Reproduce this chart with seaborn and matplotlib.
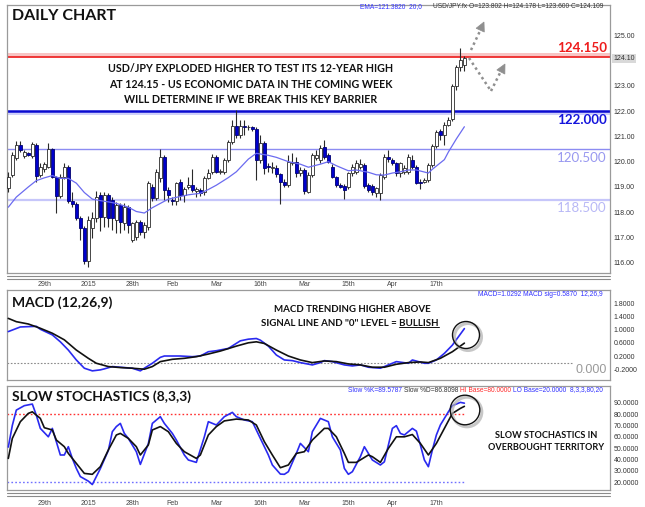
import numpy as np
import matplotlib
matplotlib.use("Agg")
import matplotlib.pyplot as plt
import seaborn as sns
from matplotlib.patches import Ellipse, Polygon
from matplotlib.lines import Line2D

# ---------------- data ----------------
opens = [118.94, 119.47, 120.13, 120.66, 120.22, 120.35, 120.22, 120.66, 119.47, 119.70,
         119.80, 120.49, 119.40, 118.65, 119.40, 119.80, 118.45, 118.32, 117.78, 117.39,
         116.07, 117.39, 117.76, 118.68, 117.82, 118.70, 118.48, 117.70, 118.30, 117.56,
         118.22, 116.90, 117.03, 117.63, 117.23, 117.40, 119.01, 118.57, 119.34, 120.19,
         118.88, 118.48, 118.45, 119.20, 118.68, 119.00, 119.07, 118.85, 118.88, 118.81,
         119.37, 119.60, 120.19, 119.60, 119.60, 120.06, 120.79, 121.42, 121.05, 121.42,
         121.35, 121.38, 121.29, 120.06, 120.72, 119.83, 119.76, 119.76, 119.50, 119.20,
         119.07, 119.95, 120.00, 119.54, 119.67, 118.81, 119.47, 120.13, 120.06, 120.59,
         120.26, 119.80, 119.40, 119.08, 119.04, 119.01, 119.54, 119.60, 119.80, 119.85,
         119.08, 119.04, 118.77, 118.75, 119.40, 120.20, 120.06, 119.93, 119.54, 119.60,
         119.60, 120.06, 119.80, 119.21, 119.21, 119.27, 119.87, 120.62, 121.21, 121.05,
         121.45, 121.70, 122.99, 123.74, 123.802]
highs = [119.60, 120.40, 120.81, 120.80, 120.45, 120.40, 120.76, 120.72, 119.95, 120.00,
         120.72, 120.55, 119.45, 119.50, 119.93, 119.85, 118.80, 118.40, 117.85, 117.45,
         117.85, 118.00, 118.83, 118.80, 118.80, 118.78, 118.60, 118.40, 118.35, 118.35,
         118.30, 117.63, 117.70, 117.70, 117.60, 119.23, 119.10, 119.70, 120.50, 120.25,
         119.00, 118.60, 119.20, 119.30, 119.00, 119.40, 119.70, 119.00, 118.95, 119.45,
         119.70, 120.30, 120.25, 119.70, 120.15, 120.85, 121.64, 122.03, 121.64, 121.64,
         121.45, 121.42, 121.35, 121.05, 120.80, 119.95, 120.00, 119.85, 119.55, 119.30,
         120.26, 120.33, 120.20, 119.80, 119.75, 119.60, 120.35, 120.45, 120.66, 120.85,
         120.35, 119.90, 119.45, 119.15, 119.10, 119.60, 119.90, 120.05, 120.09, 119.95,
         119.15, 119.10, 119.00, 119.55, 120.30, 120.45, 120.15, 120.00, 120.00, 119.85,
         120.30, 120.25, 119.85, 119.30, 119.35, 119.95, 120.70, 121.25, 121.30, 121.55,
         121.75, 123.05, 123.82, 124.48, 124.178]
lows = [118.80, 119.40, 120.05, 120.40, 120.15, 120.22, 120.15, 119.20, 119.40, 119.60,
        119.75, 119.35, 117.99, 118.55, 119.30, 118.35, 118.20, 117.70, 116.90, 115.95,
        115.85, 117.00, 117.60, 117.25, 117.40, 117.40, 117.30, 117.20, 117.20, 117.30,
        117.20, 116.84, 116.90, 117.10, 117.00, 117.30, 118.45, 118.50, 119.20, 118.50,
        118.40, 118.30, 118.30, 118.50, 118.40, 118.90, 118.80, 118.60, 118.65, 118.70,
        119.30, 119.50, 119.55, 119.50, 119.50, 120.00, 120.70, 120.95, 120.95, 121.05,
        121.25, 121.20, 119.27, 119.95, 119.50, 119.60, 119.55, 119.40, 118.31, 119.00,
        119.00, 119.85, 119.40, 119.45, 118.71, 118.75, 119.40, 120.05, 119.95, 120.10,
        119.95, 119.35, 119.00, 118.95, 118.51, 118.90, 119.45, 119.50, 119.70, 118.95,
        118.80, 118.70, 118.61, 118.48, 119.30, 120.00, 119.85, 119.45, 119.40, 119.50,
        119.50, 119.70, 119.10, 118.90, 119.15, 119.20, 119.80, 120.55, 120.85, 120.66,
        121.40, 121.60, 122.83, 123.60, 123.600]
closes = [119.40, 120.26, 120.66, 120.46, 120.37, 120.28, 120.68, 119.44, 119.80, 119.89,
          120.50, 119.40, 118.65, 119.40, 119.80, 118.44, 118.32, 117.78, 117.39, 116.07,
          117.69, 117.76, 118.61, 117.82, 118.70, 117.76, 117.76, 118.30, 117.63, 118.22,
          117.49, 117.56, 117.63, 117.23, 117.50, 119.14, 118.57, 119.60, 120.19, 118.88,
          118.68, 118.45, 119.14, 118.68, 118.90, 119.07, 118.88, 118.90, 118.78, 119.37,
          119.55, 120.19, 119.60, 119.65, 120.06, 120.79, 121.42, 121.05, 121.42, 121.38,
          121.36, 121.29, 120.06, 120.72, 119.73, 119.78, 119.78, 119.50, 119.20, 119.07,
          120.00, 120.00, 119.54, 119.67, 118.84, 119.47, 120.26, 120.26, 120.52, 120.20,
          120.00, 119.40, 119.08, 119.01, 118.88, 119.54, 119.80, 119.93, 119.90, 119.05,
          118.88, 118.81, 118.94, 119.47, 120.20, 120.09, 119.93, 119.54, 119.93, 119.73,
          120.17, 119.80, 119.17, 119.17, 119.27, 119.87, 120.62, 121.18, 121.05, 121.45,
          121.65, 122.97, 123.74, 124.02, 124.109]

ema_bars = [0, 2, 5, 7, 9, 11, 13, 15, 17, 19, 21, 23, 25, 27, 30, 32, 34, 36, 38, 40,
            42, 45, 48, 50, 52, 55, 57, 60, 62, 65, 67, 70, 73, 75, 78, 80, 82, 85, 87, 90,
            92, 94, 96, 98, 100, 102, 105, 106, 109, 110, 112, 114]
ema_vals = [118.20, 118.60, 119.00, 119.25, 119.36, 119.45, 119.34, 119.34, 119.15, 118.78,
            118.52, 118.46, 118.41, 118.35, 118.20, 118.03, 117.97, 118.18, 118.35, 118.52,
            118.59, 118.69, 118.75, 118.90, 119.07, 119.37, 119.60, 120.10, 120.33, 120.25,
            120.17, 120.00, 119.90, 119.78, 119.90, 120.00, 119.84, 119.64, 119.67, 119.58,
            119.48, 119.47, 119.55, 119.60, 119.67, 119.67, 119.55, 119.70, 120.08, 120.38,
            120.90, 121.38]

macd_bars = [0, 3, 7, 8, 11, 13, 15, 17, 19, 21, 23, 24, 26, 29, 31, 33, 34, 36, 38, 39,
             43, 46, 48, 50, 52, 55, 58, 60, 62, 63, 65, 67, 69, 71, 73, 76, 78, 79, 81, 84,
             86, 88, 90, 93, 95, 97, 100, 101, 104, 105, 107, 109, 111, 114]
macd_vals = [0.94, 1.08, 1.10, 1.01, 0.84, 0.63, 0.38, 0.08, -0.17, -0.25, -0.22, -0.19,
             -0.12, -0.15, -0.17, -0.25, -0.17, -0.02, 0.16, 0.20, 0.20, 0.18, 0.20, 0.33,
             0.36, 0.43, 0.66, 0.71, 0.73, 0.68, 0.50, 0.23, 0.08, 0.06, 0.00, -0.07, 0.00,
             0.06, 0.03, -0.07, -0.10, -0.07, -0.14, -0.17, -0.07, 0.03, -0.02, 0.08, -0.02,
             -0.02, 0.08, 0.28, 0.53, 1.03]
sig_bars = [0, 2, 5, 8, 11, 14, 17, 20, 22, 25, 28, 31, 34, 36, 38, 41, 44, 47, 50, 53,
            57, 60, 62, 64, 67, 70, 73, 76, 79, 82, 85, 88, 91, 94, 97, 100, 103, 105, 108,
            111, 114]
sig_vals = [1.34, 1.24, 1.17, 1.04, 0.89, 0.69, 0.38, 0.13, -0.02, -0.12, -0.15, -0.17,
            -0.20, -0.12, 0.03, 0.10, 0.13, 0.18, 0.26, 0.35, 0.50, 0.60, 0.63, 0.58, 0.38,
            0.20, 0.08, 0.00, 0.05, 0.03, -0.04, -0.07, -0.14, -0.14, -0.05, 0.00, 0.02,
            0.00, 0.13, 0.33, 0.59]

k_bars = [0, 1, 2, 4, 6, 7, 8, 10, 11, 12, 13, 14, 15, 16, 17, 18, 20, 21, 23, 25, 26, 27,
          28, 29, 30, 32, 33, 35, 36, 38, 39, 41, 42, 44, 45, 47, 49, 50, 52, 54, 56, 57,
          59, 61, 63, 65, 66, 68, 69, 70, 72, 73, 75, 76, 78, 80, 81, 83, 84, 85, 86, 88,
          89, 90, 91, 93, 94, 96, 97, 98, 99, 101, 102, 103, 104, 105, 106, 107, 108, 110,
          111, 113, 114]
k_vals = [51, 70, 83.5, 87.4, 88.8, 79, 67.4, 60, 67.4, 55.7, 44, 44, 51.3, 41, 32.2, 25,
          21, 18, 32, 48, 64.5, 69, 71.8, 63, 58.6, 46.9, 35.7, 54, 71.8, 77.7, 71.8, 63,
          57.2, 44, 39.6, 37.5, 60, 73.3, 70.4, 77.7, 81.5, 77.7, 74.8, 73.3, 58.6, 44,
          35.2, 27.2, 27, 29.3, 45.4, 54.2, 46.9, 64.5, 76.2, 73.3, 60, 48.4, 32.2, 27,
          29.3, 42.5, 51.3, 45.4, 39.6, 35.2, 38, 67.4, 69.8, 63, 61.6, 67.4, 65, 52.8,
          39.6, 33.7, 48.4, 61.6, 70.4, 82, 87.4, 90.3, 89.6]
d_bars = [0, 1, 3, 5, 6, 8, 9, 11, 12, 14, 15, 17, 19, 21, 23, 25, 27, 28, 30, 32, 33, 35,
          36, 38, 40, 42, 44, 47, 48, 50, 52, 54, 57, 60, 62, 64, 66, 68, 70, 72, 74, 76,
          79, 80, 82, 84, 85, 87, 90, 91, 93, 95, 97, 99, 101, 103, 105, 107, 109, 111,
          113, 114]
d_vals = [41, 58.6, 73.3, 80.6, 82, 76.2, 68, 66, 57.2, 51.3, 45.4, 36.6, 27.8, 27, 33.7,
          48.4, 61.6, 63, 58.6, 51.3, 44, 52.8, 66, 69, 64.5, 54.2, 46.9, 41, 44, 61.6, 69,
          74, 75.6, 74.8, 70.4, 55.7, 44, 32.8, 35.2, 45.4, 46.9, 57.2, 67.4, 67.4, 60,
          45.4, 37.5, 37.5, 44, 42.5, 37.5, 49.8, 60, 60, 62, 54.2, 44, 54.2, 67.4, 80.6,
          85, 86.8]

date_ticks = [9, 20, 31, 41, 52, 63, 74, 85, 96, 107]
date_labels = ["29th", "2015", "28th", "Feb", "Mar", "16th", "Mar", "15th", "Apr", "17th"]

price_ticks = [116, 117, 118, 119, 120, 121, 122, 123, 125]
macd_ticks = [1.8, 1.4, 1.0, 0.6, 0.2, -0.2]
stoch_ticks = [90, 80, 70, 60, 50, 40, 30, 20]

resistance = 124.15
support_main = 122.0
level_mid = 120.5
level_low = 118.5

# ---------------- figure ----------------
sns.set_theme(style="white")
plt.rcParams['font.family'] = ['Lato', 'DejaVu Sans']

W, H = 645, 507
fig = plt.figure(figsize=(W / 100, H / 100), dpi=100)
fig.patch.set_facecolor("white")


def rect(l, t, r, b):
    return [l / W, 1 - b / H, (r - l) / W, (b - t) / H]


ax = fig.add_axes(rect(7, 5, 610, 273))
axm = fig.add_axes(rect(7, 290, 610, 380))
axs = fig.add_axes(rect(7, 386, 610, 490))

XLIM = (-0.33, 150.4)
FRAME = "#9a9a9a"
for a in (ax, axm, axs):
    a.set_facecolor("white")
    a.set_xlim(*XLIM)
    for sp in a.spines.values():
        sp.set_color(FRAME)
        sp.set_linewidth(0.9)
        sp.set_visible(True)
    a.yaxis.tick_right()
    a.tick_params(axis="y", length=0, pad=2.5, labelsize=5, labelcolor="#333333")
    a.grid(False)

# ---- main price panel ----
ax.set_ylim(115.6, 126.19)
ax.axhspan(resistance, resistance + 0.16, color="#f8c4c4", lw=0, zorder=1)
ax.axhline(resistance, color="#ee2a2a", lw=1.3, zorder=2)
ax.axhspan(support_main - 0.17, support_main, color="#cfd0fa", lw=0, zorder=1)
ax.axhline(support_main, color="#0a0ad0", lw=1.8, zorder=2)
ax.axhline(level_mid, color="#8c8cf2", lw=1.0, zorder=2)
ax.axhline(level_low, color="#c6c6fa", lw=1.6, zorder=2)

o = np.array(opens)
c = np.array(closes)
hi = np.array(highs)
lo = np.array(lows)
x = np.arange(len(c))
up = c >= o
body = np.maximum(np.abs(c - o), 0.035)
ax.vlines(x, lo, hi, color="#2a2a2a", lw=0.8, zorder=3)
ax.bar(x[up], body[up], bottom=np.minimum(o, c)[up], width=0.74, color="white",
       edgecolor="#2a2a2a", linewidth=0.6, zorder=4)
ax.bar(x[~up], body[~up], bottom=np.minimum(o, c)[~up], width=0.74, color="#0000cc",
       edgecolor="#000070", linewidth=0.6, zorder=4)

sns.lineplot(x=ema_bars, y=ema_vals, ax=ax, color="#6b6bf0", linewidth=0.9,
             legend=False, estimator=None, sort=False, zorder=5)

last_tick = np.floor(closes[-1] * 100) / 100
ax.set_yticks(price_ticks + [last_tick])
ax.set_yticklabels([f"{v:.2f}" for v in price_ticks] + [f"{last_tick:.2f}"])
for lab in ax.get_yticklabels():
    lab.set_family("Liberation Sans")
ax.get_yticklabels()[-1].set_bbox(dict(boxstyle="square,pad=0.15", fc="#d9d9d9", ec="none"))
ax.set_xticks(date_ticks)
ax.set_xticklabels(date_labels)
ax.tick_params(axis="x", length=0, pad=6, labelsize=5, labelcolor="#444444")
for lab in ax.get_xticklabels():
    lab.set_family("Liberation Sans")
ax.set_xlabel("")
ax.set_ylabel("")

ytr = ax.get_yaxis_transform()
ax.text(0.995, resistance + 0.34, f"{resistance:.3f}", transform=ytr, ha="right", va="center",
        fontsize=9.6, fontweight="bold", color="#ee1c1c", zorder=6)
ax.text(0.995, support_main - 0.36, f"{support_main:.3f}", transform=ytr, ha="right",
        va="center", fontsize=9.6, fontweight="bold", color="#1414dc", zorder=6)
ax.text(0.995, level_mid - 0.36, f"{level_mid:.3f}", transform=ytr, ha="right", va="center",
        fontsize=9.6, color="#9898f0", zorder=6)
ax.text(0.995, level_low - 0.33, f"{level_low:.3f}", transform=ytr, ha="right", va="center",
        fontsize=9.6, color="#b8b8f6", zorder=6)

# ---- MACD panel ----
axm.set_ylim(-0.527, 2.2)
axm.axhline(0, xmax=(572 - 7) / 603, color="#8a8a8a", lw=0.8, ls=(0, (1.5, 1.5)), zorder=1)
sns.lineplot(x=macd_bars, y=macd_vals, ax=axm, color="#2a2af0", linewidth=1.2,
             legend=False, estimator=None, sort=False, zorder=3)
sns.lineplot(x=sig_bars, y=sig_vals, ax=axm, color="#111111", linewidth=1.2,
             legend=False, estimator=None, sort=False, zorder=4)
axm.set_yticks(macd_ticks)
axm.set_yticklabels([f"{v:.4f}" for v in macd_ticks])
axm.set_xticks([])
axm.set_xlabel("")
axm.set_ylabel("")
for lab in axm.get_yticklabels():
    lab.set_family("Liberation Sans")

# ---- Stochastics panel ----
axs.set_ylim(13.2, 104.7)
axs.axhline(80, xmax=(465 - 7) / 603, color="#ff3030", lw=1.0, ls=(0, (1.2, 1.6)), zorder=1)
axs.axhline(20, xmax=(465 - 7) / 603, color="#7070ff", lw=1.0, ls=(0, (1.2, 1.6)), zorder=1)
sns.lineplot(x=k_bars, y=k_vals, ax=axs, color="#2a2af0", linewidth=1.2,
             legend=False, estimator=None, sort=False, zorder=3)
sns.lineplot(x=d_bars, y=d_vals, ax=axs, color="#111111", linewidth=1.2,
             legend=False, estimator=None, sort=False, zorder=4)
axs.set_yticks(stoch_ticks)
axs.set_yticklabels([f"{v:.4f}" for v in stoch_ticks])
for lab in axs.get_yticklabels():
    lab.set_family("Liberation Sans")
axs.set_xticks(date_ticks)
axs.set_xticklabels(date_labels)
axs.tick_params(axis="x", length=0, pad=7.5, labelsize=5, labelcolor="#444444")
for lab in axs.get_xticklabels():
    lab.set_family("Liberation Sans")
axs.set_xlabel("")
axs.set_ylabel("")

# ---------------- decorations (figure pixel coordinates) ----------------
def fx(px):
    return px / W


def fy(py):
    return 1 - py / H


def ft(px, py, s, **kw):
    return fig.text(fx(px), fy(py), s, **kw)


# separator double lines
for yy in (276.2, 278.6, 493.4, 495.8):
    fig.add_artist(Line2D([fx(7), fx(610)], [fy(yy), fy(yy)], transform=fig.transFigure,
                          color="#8a8a8a", lw=0.8))

renderer = fig.canvas.get_renderer()


def segments(x_right, py, parts, size):
    arts, widths = [], []
    for s, col in parts:
        t = fig.text(0, 0, s, fontsize=size, color=col, family="Liberation Sans", va="center")
        widths.append(t.get_window_extent(renderer).width)
        arts.append(t)
    xx = x_right - sum(widths)
    for t, w in zip(arts, widths):
        t.set_position((fx(xx), fy(py)))
        xx += w


ft(12, 16, "DAILY CHART", fontsize=11.5, fontweight="bold", color="#111111", va="center")
segments(603, 7, [("EMA=121.3820  20,0      ", "#3030ff"),
                  ("USD/JPY.fx O=123.802 H=124.178 L=123.600 C=124.109", "#333333")], 4.8)

head = ["USD/JPY EXPLODED HIGHER TO TEST ITS 12-YEAR HIGH",
        "AT 124.15 - US ECONOMIC DATA IN THE COMING WEEK",
        "WILL DETERMINE IF WE BREAK THIS KEY BARRIER"]
for i, line in enumerate(head):
    ft(251, 69 + 15.3 * i, line, fontsize=7.65, fontweight="bold", color="#111111",
       ha="center", va="center")

ft(12, 303, "MACD (12,26,9)", fontsize=10, fontweight="bold", color="#111111", va="center")
segments(603, 295, [("MACD=1.0292 MACD sig=0.5870  12,26,9", "#3030ff")], 4.8)
ft(352, 310, "MACD TRENDING HIGHER ABOVE", fontsize=7, fontweight="bold", color="#111111",
   ha="center", va="center")
l2 = ft(350, 323, 'SIGNAL LINE AND "0" LEVEL = BULLISH', fontsize=7, fontweight="bold",
        color="#111111", ha="center", va="center")
bb = l2.get_window_extent(renderer)
tmp = fig.text(0, 0, "BULLISH", fontsize=7, fontweight="bold")
wb = tmp.get_window_extent(renderer).width
tmp.remove()
fig.add_artist(Line2D([(bb.x1 - wb) / W, bb.x1 / W], [(bb.y0 + 0.5) / H, (bb.y0 + 0.5) / H],
                      transform=fig.transFigure, color="#111111", lw=0.7))
ft(607, 370, "0.000", fontsize=9, color="#9a9a9a", ha="right", va="center",
   family="Liberation Sans")

ft(12, 397, "SLOW STOCHASTICS (8,3,3)", fontsize=10, fontweight="bold", color="#111111",
   va="center")
segments(603, 390, [("Slow %K=89.5787 ", "#3030ff"), ("Slow %D=86.8098 ", "#333333"),
                    ("HI Base=80.0000 ", "#ff2a2a"),
                    ("LO Base=20.0000  8,3,3,80,20", "#3030ff")], 4.8)
ft(546, 436, "SLOW STOCHASTICS IN", fontsize=6.6, fontweight="bold", color="#111111",
   ha="center", va="center")
ft(546, 448, "OVERBOUGHT TERRITORY", fontsize=6.6, fontweight="bold", color="#111111",
   ha="center", va="center")

# highlight circles with soft shadow
for cx, cy, r in [(466, 335, 13.5), (465, 410, 14.8)]:
    fig.add_artist(Ellipse((fx(cx + 2), fy(cy + 2)), 2 * r / W, 2 * r / H,
                           transform=fig.transFigure, fill=False, ec="#b0b0b0", lw=2.2,
                           alpha=0.7))
    fig.add_artist(Ellipse((fx(cx), fy(cy)), 2 * r / W, 2 * r / H, transform=fig.transFigure,
                           fill=False, ec="#111111", lw=1.0))


# dotted projection arrows
ARROW = "#8f8f8f"


def dotted(p0, p1):
    fig.add_artist(Line2D([fx(p0[0]), fx(p1[0])], [fy(p0[1]), fy(p1[1])],
                          transform=fig.transFigure, color=ARROW, lw=1.8,
                          ls=(0, (1.0, 1.3))))


def arrow_head(base, tip, size=9.0, half=4.5):
    bx, by = base
    tx, ty = tip
    d = np.array([tx - bx, ty - by], float)
    d /= np.hypot(*d)
    nrm = np.array([-d[1], d[0]])
    b0 = np.array(tip) - d * size
    pts = [tip, tuple(b0 + nrm * half), tuple(b0 - nrm * half)]
    fig.add_artist(Polygon([(fx(p[0]), fy(p[1])) for p in pts], closed=True,
                           transform=fig.transFigure, fc=ARROW, ec=ARROW, lw=0.5))


dotted((471, 50), (480, 31))
arrow_head((471, 50), (484, 22))
dotted((469, 58), (491, 91))
dotted((491, 91), (500, 73))
arrow_head((491, 91), (505, 64))

fig.savefig("out.png", dpi=100, facecolor="white")
